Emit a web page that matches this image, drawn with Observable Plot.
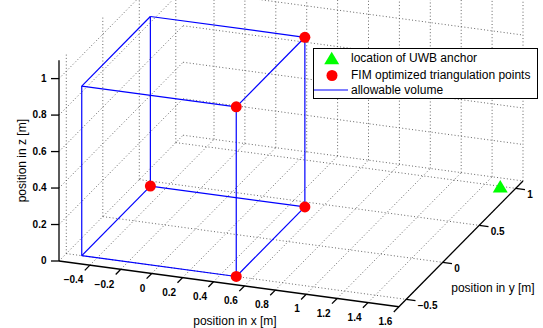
<!DOCTYPE html>
<html><head><meta charset="utf-8">
<script src="https://cdn.jsdelivr.net/npm/d3@7"></script>
<script src="https://cdn.jsdelivr.net/npm/@observablehq/plot@0.6"></script>
<style>
html,body{margin:0;padding:0;background:#fff;overflow:hidden;}
#wrap{position:relative;width:543px;height:328px;font-family:"Liberation Sans",Arial,Helvetica,sans-serif;}
#legend{position:absolute;left:313px;top:48px;width:223px;height:49px;border:1px solid #000;background:#fff;font-size:12px;color:#000;}
#legend .row{position:absolute;left:0;height:16px;display:flex;align-items:center;white-space:nowrap;}
#legend svg{display:block;}
#legend span{margin-left:1px;}
</style></head>
<body><div id="wrap"><div id="chart"></div><div id="legend"></div></div>
<script>
// ---- data (metres) ----
const xLimits = [-0.6, 1.6];
const yLimits = [-0.6, 1.1];
const zLimits = [0, 1.1];
const xTicks = [-0.4, -0.2, 0, 0.2, 0.4, 0.6, 0.8, 1, 1.2, 1.4, 1.6];
const yTicks = [-0.5, 0, 0.5, 1];
const zTicks = [0, 0.2, 0.4, 0.6, 0.8, 1];
// allowable volume (box)
const volumeX = [-0.5, 0.5];
const volumeY = [-0.5, 0.44];
const volumeZ = [0, 0.93];
// FIM optimized triangulation points
const fimX = [0.5, -0.5, 0.5, 0.5, 0.5];
const fimY = [-0.5, 0.44, 0.44, -0.5, 0.44];
const fimZ = [0, 0, 0, 0.93, 0.93];
// UWB anchor
const anchorX = [1.5];
const anchorY = [1.0];
const anchorZ = [0];
const axisTitles = {x: "position in x [m]", y: "position in y [m]", z: "position in z [m]"};
const legendLabels = ["location of UWB anchor", "FIM optimized triangulation points", "allowable volume"];

// ---- view (orthographic projection, px per metre) ----
const view = {ex: [154.5, -20.8], ey: [73, 74], ez: [0, 182.4], origin: [58.5, 260.5]};
const W = 543, H = 328;
function proj(x, y, z) {
  return [view.ex[0]*x + view.ey[0]*y + view.ez[0]*z, view.ex[1]*x + view.ey[1]*y + view.ez[1]*z];
}
const [u0, v0] = proj(xLimits[0], yLimits[0], zLimits[0]);
const xDomain = [u0 - view.origin[0], u0 - view.origin[0] + W];
const yDomain = [v0 - (H - view.origin[1]), v0 + view.origin[1]];
function seg(a, b) { const p = proj(...a), q = proj(...b); return {x1: p[0], y1: p[1], x2: q[0], y2: q[1]}; }
const [xmin, xmax] = xLimits, [ymin, ymax] = yLimits, [zmin, zmax] = zLimits;

// grid on back planes
const grid = [];
for (const x of xTicks) grid.push(seg([x, ymin, zmin], [x, ymax, zmin]), seg([x, ymax, zmin], [x, ymax, zmax]));
for (const y of yTicks) grid.push(seg([xmin, y, zmin], [xmax, y, zmin]), seg([xmin, y, zmin], [xmin, y, zmax]));
for (const z of zTicks) grid.push(seg([xmin, ymax, z], [xmax, ymax, z]), seg([xmin, ymin, z], [xmin, ymax, z]));

// box edges
const corners = [];
for (const x of volumeX) for (const y of volumeY) for (const z of volumeZ) corners.push([x, y, z]);
const edges = [];
for (let i = 0; i < corners.length; i++) for (let j = i + 1; j < corners.length; j++) {
  const diff = corners[i].filter((c, k) => c !== corners[j][k]).length;
  if (diff === 1) edges.push(seg(corners[i], corners[j]));
}

const axesLines = [
  seg([xmin, ymin, zmin], [xmax, ymin, zmin]),
  seg([xmax, ymin, zmin], [xmax, ymax, zmin]),
  seg([xmin, ymin, zmin], [xmin, ymin, zmax])
];
const xTickSegs = xTicks.map(t => seg([t, ymin, zmin], [t, ymin - 0.07, zmin]));
const yTickSegs = yTicks.map(t => seg([xmax, t, zmin], [xmax + 0.06, t, zmin]));
const zTickSegs = zTicks.map(t => { const p = proj(xmin, ymin, t); return {x1: p[0], y1: p[1], x2: p[0] - 8, y2: p[1]}; });
const fmt = d => (d < 0 ? "\u2212" : "") + Math.abs(d);

const fim = fimX.map((x, i) => proj(x, fimY[i], fimZ[i]));
const anchors = anchorX.map((x, i) => proj(x, anchorY[i], anchorZ[i]));

const triUp = {draw(ctx, size) { const r = Math.sqrt(size/Math.PI); const hw = r*1.36, hh = r*1.15;
  ctx.moveTo(0, -hh); ctx.lineTo(hw, hh); ctx.lineTo(-hw, hh); ctx.closePath(); }};

const xMid = proj((xmin + xmax)/2, ymin, zmin);
const yMid = proj(xmax, (ymin + ymax)/2, zmin);
const zMid = proj(xmin, ymin, (zmin + zmax)/2);
const titles = [
  {x: xMid[0] + 6, y: xMid[1] - 37, t: axisTitles.x, r: 0},
  {x: yMid[0] + 32, y: yMid[1] - 44.5, t: axisTitles.y, r: 0},
  {x: zMid[0] - 36.5, y: zMid[1], t: axisTitles.z, r: -90}
];

const linkOpts = (o) => Object.assign({x1: "x1", y1: "y1", x2: "x2", y2: "y2"}, o);
const chart = Plot.plot({
  width: W, height: H, margin: 0,
  style: {fontFamily: '"Liberation Sans", Arial, Helvetica, sans-serif', background: "#fff", color: "#000"},
  x: {domain: xDomain, axis: null},
  y: {domain: yDomain, axis: null},
  marks: [
    Plot.link(grid, linkOpts({stroke: "#555", strokeWidth: 0.9, strokeDasharray: "1,2.3"})),
    Plot.link(axesLines, linkOpts({stroke: "#000", strokeWidth: 1.3})),
    Plot.link(xTickSegs, linkOpts({stroke: "#000", strokeWidth: 1.3})),
    Plot.link(yTickSegs, linkOpts({stroke: "#000", strokeWidth: 1.3})),
    Plot.link(zTickSegs, linkOpts({stroke: "#000", strokeWidth: 1.3})),
    Plot.link(edges, linkOpts({stroke: "#0000ff", strokeWidth: 1.2})),
    Plot.dot(fim, {x: d => d[0], y: d => d[1], r: 5.5, fill: "#ff0000", stroke: "none"}),
    Plot.dot(anchors, {x: d => d[0], y: d => d[1], r: 5.5, symbol: triUp, fill: "#00ff00", stroke: "none"}),
    Plot.text(xTicks, {x: d => proj(d, ymin, zmin)[0], y: d => proj(d, ymin, zmin)[1], text: fmt, textAnchor: "end", dx: -6.5, dy: 15, fontSize: 10, fontWeight: "bold"}),
    Plot.text(yTicks, {x: d => proj(xmax, d, zmin)[0], y: d => proj(xmax, d, zmin)[1], text: fmt, textAnchor: "start", dx: 11.5, dy: 6.5, fontSize: 10, fontWeight: "bold"}),
    Plot.text(zTicks, {x: d => proj(xmin, ymin, d)[0], y: d => proj(xmin, ymin, d)[1], text: fmt, textAnchor: "end", dx: -12.5, fontSize: 10, fontWeight: "bold"}),
    Plot.text(titles, {x: "x", y: "y", text: "t", rotate: "r", fontSize: 12})
  ]
});
document.getElementById("chart").appendChild(chart);

// legend
const lg = document.getElementById("legend");
const sym = [
  '<svg width="36" height="16"><path d="M17.7,1.7 L25.2,14.3 L10.2,14.3 Z" fill="#00ff00"/></svg>',
  '<svg width="36" height="16"><circle cx="18" cy="8.5" r="5.5" fill="#ff0000"/></svg>',
  '<svg width="36" height="16"><line x1="0" y1="8" x2="34" y2="8" stroke="#0000ff" stroke-width="1.2"/></svg>'
];
const tops = [1, 17.5, 33];
legendLabels.forEach((t, i) => {
  const row = document.createElement("div");
  row.className = "row"; row.style.top = tops[i] + "px";
  row.innerHTML = sym[i] + "<span>" + t + "</span>";
  lg.appendChild(row);
});
</script></body></html>
